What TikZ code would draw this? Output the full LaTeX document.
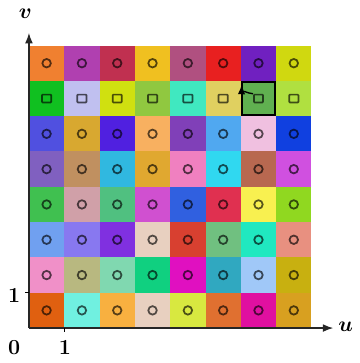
\documentclass[tikz,border=0pt]{standalone}
\usepackage{tikz}
\usetikzlibrary{arrows.meta,positioning,calc}
\usepackage{xcolor}

\begin{document}
\begin{tikzpicture}[
    >=Latex,
    cell/.style={minimum size=1cm, inner sep=0pt, outer sep=0pt},
    dot/.style={draw, circle, line width=1.4pt, minimum size=2.4mm, inner sep=0pt},
    box/.style={draw, rounded corners=0.6pt, line width=1.4pt, minimum width=2.6mm,
                minimum height=2.2mm, inner sep=0pt},
    axis/.style={->, line width=1.2pt, draw=black!85},
    lbl/.style={font=\LARGE\bfseries, inner sep=1pt},
  ]
  \useasboundingbox (-0.82,-0.99) rectangle (9.35,9.29);

  % cell colours, top row first
  \foreach \row/\mk [count=\j] in {
      {F08030,B040B0,C03050,F0C020,B05080,E82020,7020C0,D0D810}/dot,
      {10C020,C0C0F0,D0E010,90C840,40E8C0,E0D060,60B050,B0E040}/box,
      {5050E0,D8A830,5020E0,F8B060,8040B8,50A8F0,F0C0E0,1040E0}/dot,
      {8060C0,C09060,30B8E0,E0A830,F080C0,30D8F0,B86850,D050E0}/dot,
      {40C050,D0A0A8,50C080,D050D0,3060E0,E03050,F8F050,90D820}/dot,
      {70A0F0,8878F0,8030E0,E8D0C0,D84030,70C080,20E8C0,E89080}/dot,
      {F090C8,B8B880,80D8B0,10D080,E010C0,30A8C0,A0C8F8,C8B010}/dot,
      {E06010,70F0E0,F8B040,E8D0C0,D8E840,E07030,E010A0,D8A020}/dot}{
    \foreach \c [count=\i from 0] in \row {
      \definecolor{cc}{HTML}{\c}
      \node[cell, fill=cc] (c-\i-\j) at (\i+0.5, 8.5-\j) {};
      \node[\mk, draw=cc!35!black] (m-\i-\j) at (c-\i-\j) {};
    }
  }

  \node[cell, draw, line width=1.5pt, minimum size=0.94cm] (hl) at (c-6-2) {};
  \draw[->, line width=1.1pt, shorten >=2pt] (m-6-2.north west) to[bend left=45] (hl.north west);

  \coordinate (o) at (0,0);
  \coordinate (vtop) at (0,8.36);
  \coordinate (uend) at (8.62,0);
  \draw[axis] (o) -- (vtop);
  \draw[axis] (o) -- (uend);
  \draw[line width=1pt] (1,0) -- (1,-0.12);
  \draw[line width=1pt] (0,1) -- (-0.12,1);

  \node[lbl, font=\LARGE\boldmath] (v) at (-0.1,8.9) {$v$};
  \node[lbl, font=\LARGE\boldmath] (u) at (8.97,0.05) {$u$};
  \node[lbl] (zero) at (-0.42,-0.55) {0};
  \node[lbl] (one-u) at (1.02,-0.55) {1};
  \node[lbl] (one-v) at (-0.42,0.93) {1};

\end{tikzpicture}
\end{document}
